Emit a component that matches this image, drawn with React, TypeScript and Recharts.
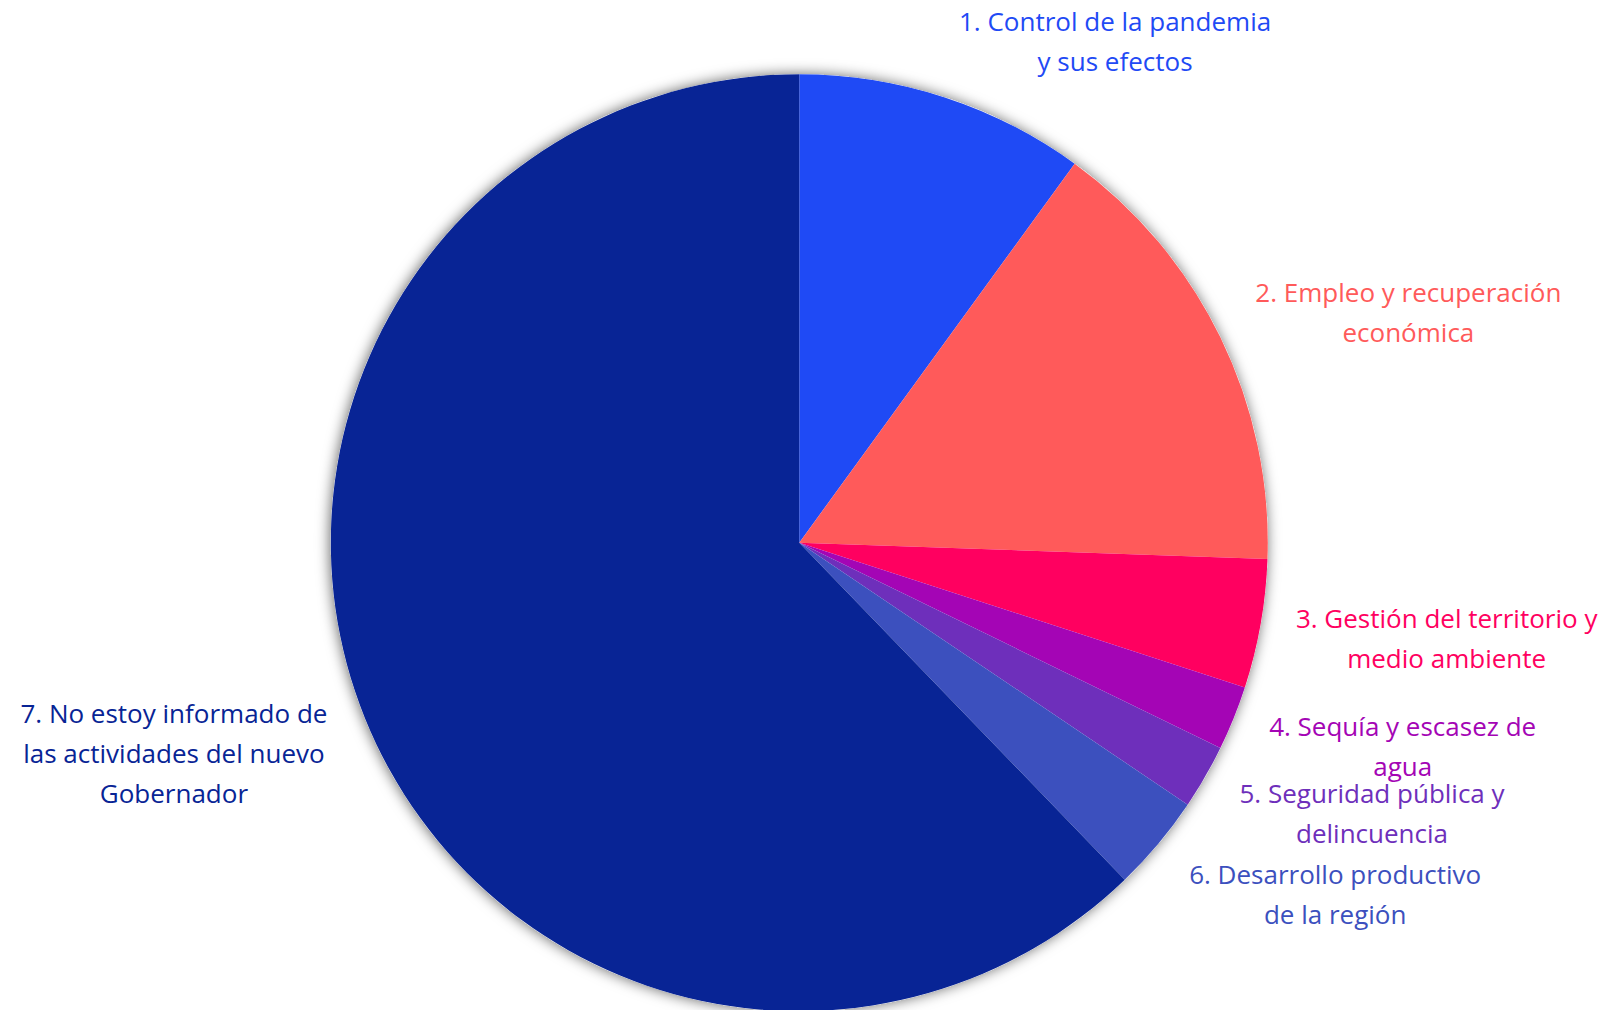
import React from "react";
import { PieChart, Pie, Cell } from "recharts";

const categories = [
  "1. Control de la pandemia y sus efectos",
  "2. Empleo y recuperación económica",
  "3. Gestión del territorio y medio ambiente",
  "4. Sequía y escasez de agua",
  "5. Seguridad pública y delincuencia",
  "6. Desarrollo productivo de la región",
  "7. No estoy informado de las actividades del nuevo Gobernador",
];

const values = [9, 14, 4, 2, 2, 3, 56];

const labelLines = [
  ["1. Control de la pandemia", "y sus efectos"],
  ["2. Empleo y recuperación", "económica"],
  ["3. Gestión del territorio y", "medio ambiente"],
  ["4. Sequía y escasez de", "agua"],
  ["5. Seguridad pública y", "delincuencia"],
  ["6. Desarrollo productivo", "de la región"],
  ["7. No estoy informado de", "las actividades del nuevo", "Gobernador"],
];

const colors = [
  "#1F4AF5",
  "#FF5A5A",
  "#FF0060",
  "#A405B5",
  "#6E2FBB",
  "#3C50BE",
  "#082495",
];

const data = categories.map((name, i) => ({ name, value: values[i] }));
const totalData = [{ name: "total", value: values.reduce((a, b) => a + b, 0) }];

// label offsets (px) from the slice's outer-edge midpoint to the label block (center x, first baseline)
const LABEL_NUDGE: [number, number][] = [
  [171, -66],
  [188, -35],
  [186, 4],
  [169, 18],
  [167, 26],
  [177, 40],
  [-191, 5],
];

const RADIAN = Math.PI / 180;
const LINE_H = 40;

const renderLabel = (props: any) => {
  const { cx, cy, midAngle, outerRadius, index } = props;
  const ex = cx + outerRadius * Math.cos(-midAngle * RADIAN);
  const ey = cy + outerRadius * Math.sin(-midAngle * RADIAN);
  const [dx, dy] = LABEL_NUDGE[index];
  const x = ex + dx;
  const y = ey + dy;
  const lines = labelLines[index];
  return (
    <text
      key={`lbl-${index}`}
      x={x}
      y={y}
      textAnchor="middle"
      fill={colors[index]}
      fontFamily="'Open Sans', sans-serif"
      fontSize={26}
    >
      {lines.map((ln, j) => (
        <tspan key={j} x={x} y={y + j * LINE_H}>
          {ln}
        </tspan>
      ))}
    </text>
  );
};

export default function App() {
  return (
    <div style={{ position: "absolute", left: 0, top: 0, width: 1608, height: 1010, background: "#fff", overflow: "hidden" }}>
      <svg width={0} height={0} style={{ position: "absolute" }}>
        <defs>
          <filter id="pieShadow" x="-10%" y="-10%" width="120%" height="120%">
            <feDropShadow dx="-1" dy="0" stdDeviation="7" floodColor="#000" floodOpacity="0.6" />
          </filter>
        </defs>
      </svg>
      <PieChart width={1608} height={1010} margin={{ top: 0, right: 0, bottom: 0, left: 0 }}>
        <Pie
          data={totalData}
          dataKey="value"
          cx={799.3}
          cy={542.7}
          outerRadius={468.5}
          innerRadius={0}
          startAngle={90}
          endAngle={-270}
          stroke="none"
          isAnimationActive={false}
          label={false}
          labelLine={false}
        >
          <Cell fill="#ffffff" filter="url(#pieShadow)" />
        </Pie>
        <Pie
          data={data}
          dataKey="value"
          nameKey="name"
          cx={799.3}
          cy={542.7}
          outerRadius={468.5}
          innerRadius={0}
          startAngle={90}
          endAngle={-270}
          stroke="none"
          isAnimationActive={false}
          label={renderLabel}
          labelLine={false}
        >
          {data.map((d, i) => (
            <Cell key={d.name} fill={colors[i]} />
          ))}
        </Pie>
      </PieChart>
    </div>
  );
}
